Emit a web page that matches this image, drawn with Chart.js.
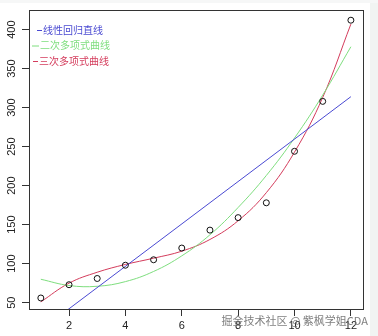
<!DOCTYPE html>
<html>
<head>
<meta charset="utf-8">
<script src="https://cdn.jsdelivr.net/npm/chart.js@4"></script>
<style>
  body { margin: 0; background: #fff; }
  canvas { display: block; }
</style>
</head>
<body>
<canvas id="fitChart" width="378" height="336"></canvas>
<script>
// data
var xs = [1, 2, 3, 4, 5, 6, 7, 8, 9, 10, 11, 12];
var observed = [56, 73, 81, 98, 105, 120, 143, 159, 178, 244, 308, 412];
var lineXs = [1, 12];
var linearFit = [15, 314];
var quadFit = [80, 72, 71, 77, 90, 110, 137, 172, 213, 261, 316, 378];
var cubicFit = [51, 75, 89, 99, 107, 116, 131, 155, 191, 243, 313, 407];
var xTicks = [2, 4, 6, 8, 10, 12];
var yTicks = [50, 100, 150, 200, 250, 300, 350, 400];
var legendLabels = ['线性回归直线', '二次多项式曲线', '三次多项式曲线'];

function pairs(a, b) {
    return a.map(function (v, i) { return { x: v, y: b[i] }; });
}

var blue = '#4a4ad2', green = '#7ede7e', red = '#d43c5c';

var frame = {
    id: 'frame',
    beforeDraw: function (chart) {
        var ctx = chart.ctx;
        ctx.save();
        ctx.fillStyle = '#ffffff';
        ctx.fillRect(0, 0, chart.width, chart.height);
        ctx.fillStyle = '#f1f4f2';
        ctx.fillRect(370, 0, chart.width - 370, chart.height);
        ctx.fillStyle = '#f6f7f7';
        ctx.fillRect(0, 0, chart.width, 3);
        ctx.restore();
    },
    afterDraw: function (chart) {
        var ctx = chart.ctx;
        var a = chart.chartArea;
        var y = chart.scales.y;
        ctx.save();
        // plot box
        ctx.strokeStyle = '#333';
        ctx.lineWidth = 1;
        ctx.strokeRect(Math.round(a.left) + 0.5, Math.round(a.top) + 0.5,
            Math.round(a.right - a.left), Math.round(a.bottom - a.top));
        // rotated y labels, R style
        ctx.fillStyle = '#222';
        ctx.font = '11px "Liberation Sans", Arial, sans-serif';
        ctx.textAlign = 'center';
        ctx.textBaseline = 'middle';
        yTicks.forEach(function (v) {
            ctx.save();
            ctx.translate(12, y.getPixelForValue(v));
            ctx.rotate(-Math.PI / 2);
            ctx.fillText(String(v), 0, 0);
            ctx.restore();
        });
        // legend
        var cols = [blue, green, red];
        var segs = [[37, 42], [32, 39], [33, 38]];
        ctx.font = '10px "Noto Sans CJK SC", sans-serif';
        ctx.textAlign = 'left';
        legendLabels.forEach(function (t, i) {
            var ly = 30 + i * 15.5;
            ctx.strokeStyle = cols[i];
            ctx.beginPath();
            ctx.moveTo(segs[i][0], ly + 0.5);
            ctx.lineTo(segs[i][1], ly + 0.5);
            ctx.stroke();
            ctx.fillStyle = cols[i];
            ctx.fillText(t, segs[i][1] + 1, ly);
        });
        // watermark
        ctx.font = '11px "Noto Sans CJK SC", sans-serif';
        ctx.textAlign = 'right';
        ctx.textBaseline = 'middle';
        ctx.fillStyle = 'rgba(105,105,105,0.85)';
        ctx.fillText('掘金技术社区 @ 紫枫学姐CDA', 368, 321);
        ctx.restore();
    }
};

var ctx = document.getElementById('fitChart').getContext('2d');
var fitChart = new Chart(ctx, {
    type: 'scatter',
    data: {
        datasets: [{
            label: 'points',
            data: pairs(xs, observed),
            pointStyle: 'circle',
            pointRadius: 3,
            borderColor: '#111',
            backgroundColor: 'rgba(0,0,0,0)',
            borderWidth: 1
        }, {
            label: legendLabels[0],
            data: pairs(lineXs, linearFit),
            showLine: true,
            pointRadius: 0,
            borderColor: blue,
            borderWidth: 1
        }, {
            label: legendLabels[1],
            data: pairs(xs, quadFit),
            showLine: true,
            pointRadius: 0,
            tension: 0.4,
            borderColor: green,
            borderWidth: 1
        }, {
            label: legendLabels[2],
            data: pairs(xs, cubicFit),
            showLine: true,
            pointRadius: 0,
            tension: 0.4,
            borderColor: red,
            borderWidth: 1
        }]
    },
    options: {
        responsive: false,
        animation: false,
        layout: {
            padding: { left: 0, right: 15, top: 9, bottom: 0 }
        },
        plugins: {
            legend: { display: false },
            tooltip: { enabled: false }
        },
        scales: {
            x: {
                type: 'linear',
                min: 0.58,
                max: 12.43,
                afterBuildTicks: function (s) {
                    s.ticks = xTicks.map(function (v) { return { value: v }; });
                },
                afterFit: function (s) { s.height = 27; },
                border: { display: false },
                grid: { drawOnChartArea: false, drawTicks: true, tickLength: 7, color: '#333' },
                ticks: {
                    padding: 3,
                    color: '#222',
                    font: { family: '"Liberation Sans", Arial, sans-serif', size: 11 }
                }
            },
            y: {
                min: 41.9,
                max: 425.6,
                afterBuildTicks: function (s) {
                    s.ticks = yTicks.map(function (v) { return { value: v }; });
                },
                afterFit: function (s) { s.width = 29; },
                border: { display: false },
                grid: { drawOnChartArea: false, drawTicks: true, tickLength: 7, color: '#333' },
                ticks: { color: 'rgba(0,0,0,0)', font: { size: 11 } }
            }
        }
    },
    plugins: [frame]
});
</script>
</body>
</html>
